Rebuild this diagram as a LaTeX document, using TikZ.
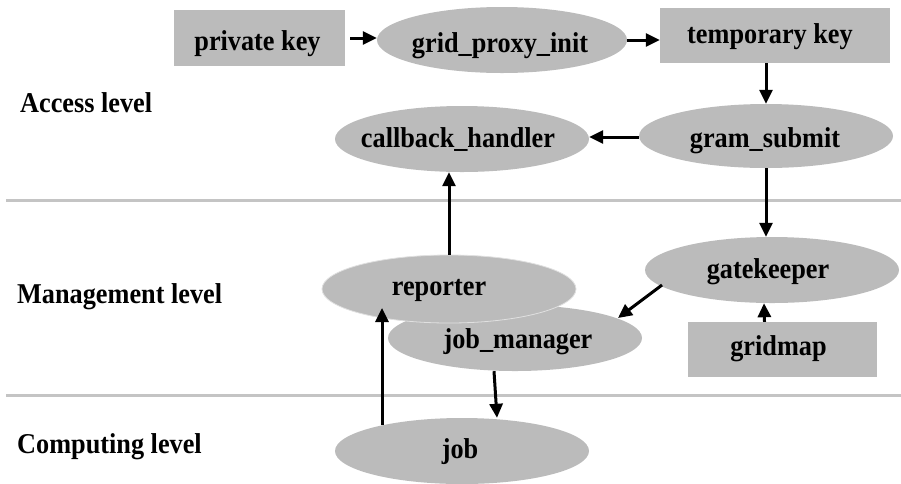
\documentclass[tikz,border=0pt]{standalone}
\usepackage{fontspec}
\setmainfont{Liberation Serif}[FakeStretch=0.915]
\usetikzlibrary{shapes.geometric,arrows.meta,calc}
\definecolor{boxgray}{RGB}{187,187,187}
\definecolor{rulegray}{RGB}{196,196,196}
\begin{document}
\begin{tikzpicture}[x=1pt,y=-1pt,
  every node/.style={font=\fontsize{28.7}{32}\selectfont\bfseries},
  blob/.style={ellipse, fill=boxgray, inner sep=0pt, minimum width=254pt, minimum height=66pt},
  card/.style={rectangle, fill=boxgray, inner sep=0pt},
  txt/.style={anchor=base, inner sep=0pt},
  level/.style={anchor=base west, inner sep=0pt},
  arr/.style={line width=3pt, -{Triangle[length=14pt,width=13pt]}},
  sep/.style={rulegray, line width=3pt},
]
\useasboundingbox (0,0) rectangle (901,483);

% level separators
\coordinate (s1a) at (6,200);   \coordinate (s1b) at (901,200);
\coordinate (s2a) at (6,395);   \coordinate (s2b) at (901,395);
\draw[sep] (s1a) -- (s1b);
\draw[sep] (s2a) -- (s2b);

% level names
\node[level] (accL) at (20,112) {Access level};
\node[level] (mgmL) at (17,303) {Management level};
\node[level] (cmpL) at (17,453) {Computing level};

% access level
\node[card, minimum width=171pt, minimum height=56pt] (pk) at (259.5,38) {};
\node[txt] (pkT) at ($(pk.center)+(-2,12)$) {private key};
\node[blob, minimum width=250pt] (gpi) at (502,40) {};
\node[txt] (gpiT) at ($(gpi.center)+(-2,12)$) {grid\_proxy\_init};
\node[card, minimum width=230pt, minimum height=55pt] (tk) at (775,35.5) {};
\node[txt] (tkT) at ($(tk.center)+(-5,8)$) {temporary key};
\node[blob, minimum height=64pt] (gs) at (766,136) {};
\node[txt] (gsT) at ($(gs.center)+(-1,11)$) {gram\_submit};
\node[blob] (cb) at (462,139) {};
\node[txt] (cbT) at ($(cb.center)+(-4,8)$) {callback\_handler};

% management level
\node[blob] (jm) at (515,338) {};
\node[txt] (jmT) at ($(jm.center)+(3,10)$) {job\_manager};
\node[blob, minimum height=68pt, draw=white!55!boxgray, line width=0.8pt] (rp) at (449,289) {};
\node[txt] (rpT) at ($(rp.center)+(-10,6)$) {reporter};
\node[blob] (gk) at (772,270) {};
\node[txt] (gkT) at ($(gk.center)+(-4,8)$) {gatekeeper};
\node[card, minimum width=189pt, minimum height=55pt] (gm) at (782.5,349.5) {};
\node[txt] (gmT) at ($(gm.center)+(-4,5.5)$) {gridmap};

% computing level
\node[blob] (jb) at (462,451) {};
\node[txt] (jbT) at ($(jb.center)+(-2,7)$) {job};

% connectors
\draw[arr] ($(pk.east)+(5,0)$) -- (pk.east -| gpi.west);
\draw[arr] (gpi.east) -- (gpi.east -| tk.west);
\draw[arr] (tk.south -| gs.north) -- (gs.north);
\draw[arr] ($(gs.west)+(0,1)$) -- ($(gs.west -| cb.east)+(0,1)$);
\draw[arr] (gs.south) -- (gs.south |- gk.north);
\draw[arr] (rp.north) -- (rp.north |- cb.south);
\draw[arr] ($(gk.center)+(-110,15)$) -- ($(jm.center)+(103,-20)$);
\draw[arr] ($(gm.north)+(-18,0)$) -- ($(gk.south)+(-8,0)$);
\draw[arr] ($(jm.south)+(-21,0)$) -- ($(jb.north)+(35,0)$);
\draw[arr] ($(jb.center)+(-80,-26)$) -- ($(rp.center)+(-67,19)$);
\end{tikzpicture}
\end{document}
